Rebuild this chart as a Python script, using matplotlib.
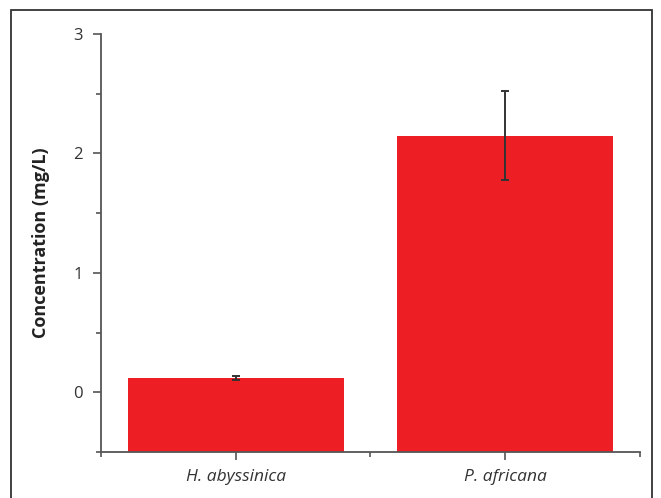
import matplotlib.pyplot as plt
from matplotlib.patches import Rectangle
from matplotlib.ticker import MultipleLocator

species = ['H. abyssinica', 'P. africana']
concentration = [0.12, 2.15]
sd = [0.02, 0.37]

plt.rcParams['font.family'] = ['Open Sans', 'DejaVu Sans']

fig = plt.figure(figsize=(6.61, 4.98), dpi=100)
ax = fig.add_axes([0.1528, 0.0924, 0.8154, 0.8393])

base = -0.5
x = [1, 2]
heights = [c - base for c in concentration]
ax.bar(x, heights, width=0.8, bottom=base, color='#ED1F24', zorder=1)
ax.errorbar(x, concentration, yerr=sd, fmt='none', ecolor='#333333',
            elinewidth=1.4, capsize=3, capthick=1.4, zorder=2)

ax.set_xlim(0.5, 2.5)
ax.set_ylim(-0.5, 3)
ax.set_xticks(x)
ax.set_xticklabels(species, fontstyle='italic', fontsize=12.5, color='#333333')
ax.xaxis.set_minor_locator(MultipleLocator(1, offset=0.5))
ax.set_yticks([0, 1, 2, 3])
ax.yaxis.set_minor_locator(MultipleLocator(0.5))
ax.tick_params(axis='y', labelsize=12, labelcolor='#333333')
ax.tick_params(which='major', length=6, width=1.2, color='#555555', direction='out', pad=7)
ax.tick_params(which='minor', length=3.5, width=1.2, color='#555555', direction='out')
ax.tick_params(axis='x', which='major', pad=6)

for side in ['top', 'right']:
    ax.spines[side].set_visible(False)
for side in ['left', 'bottom']:
    ax.spines[side].set_color('#555555')
    ax.spines[side].set_linewidth(1.3)

ax.set_ylabel('Concentration (mg/L)', fontsize=13, fontweight='bold',
              color='#222222', labelpad=17)

# thin frame around the whole figure
fig.patches.append(Rectangle((10.5 / 661, -0.05), 641.5 / 661, 1 - 10 / 498 + 0.05,
                             transform=fig.transFigure, fill=False,
                             edgecolor='#333333', linewidth=1.3))

fig.savefig('out.png', dpi=100)
